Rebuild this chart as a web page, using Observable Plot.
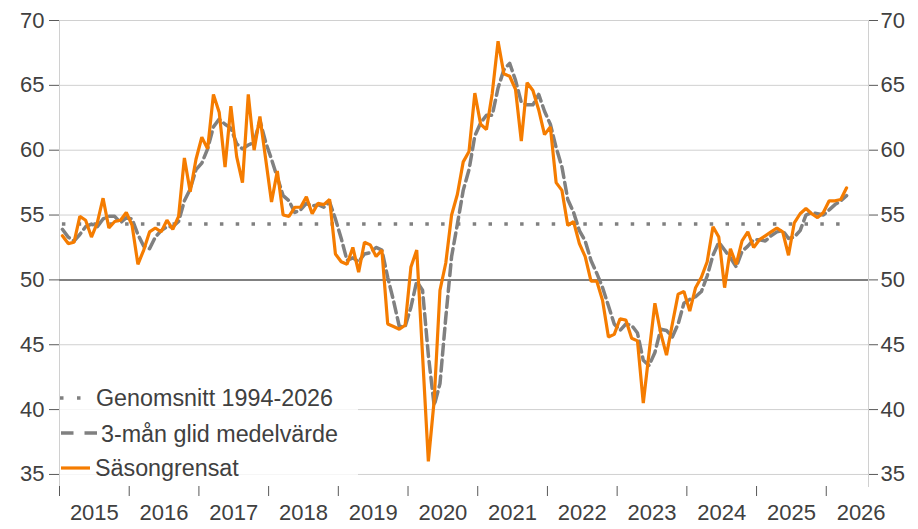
<!DOCTYPE html>
<html>
<head>
<meta charset="utf-8">
<script src="https://cdn.jsdelivr.net/npm/d3@7"></script>
<script src="https://cdn.jsdelivr.net/npm/@observablehq/plot@0.6"></script>
<style>
  html, body { margin: 0; padding: 0; background: #ffffff; }
  #wrap { position: relative; width: 918px; height: 529px; overflow: hidden; }
  #wrap svg { font-family: "Liberation Sans", Arial, sans-serif; }
  #legend { position: absolute; left: 0; top: 0; pointer-events: none; }
</style>
</head>
<body>
<div id="wrap"><div id="chart"></div>
<svg id="legend" width="918" height="529"></svg>
</div>
<script>
// Monthly series, Jan 2015 onward (one value per month)
const startYear = 2015;
const sasongrensat = [
  53.4, 52.8, 52.9, 54.9, 54.6, 53.3, 54.4, 56.3, 54.0, 54.5, 54.6, 55.2,
  54.2, 51.2, 52.3, 53.7, 54.0, 53.7, 54.6, 53.9, 54.9, 59.4, 56.8, 59.3,
  61.0, 60.1, 64.3, 62.9, 58.7, 63.4, 59.5, 57.5, 64.3, 60.0, 62.6, 59.3,
  56.0, 58.4, 55.0, 54.9, 55.6, 55.6, 56.4, 55.1, 55.9, 55.8, 56.2, 52.0,
  51.4, 51.2, 52.5, 50.6, 52.9, 52.7, 51.8, 52.3, 46.6, 46.4, 46.2, 46.5,
  51.0, 52.3, 44.2, 36.0, 40.7, 49.2, 51.3, 55.0, 56.6, 59.1, 59.9, 64.4,
  62.0, 61.6, 64.4, 68.4, 65.9, 65.7, 64.7, 60.7, 65.2, 64.6, 63.1, 61.2,
  61.8, 57.5, 56.9, 54.2, 54.5, 52.8, 51.8, 49.9, 49.9, 48.4, 45.6, 45.8,
  47.0, 46.9, 45.5, 45.3, 40.5, 44.4, 48.2, 45.9, 44.2, 46.6, 48.9, 49.1,
  47.6, 49.4, 50.2, 51.4, 54.1, 53.3, 49.4, 52.4, 51.2, 53.0, 53.7, 52.5,
  53.1, 53.4, 53.7, 54.0, 53.7, 51.9, 54.4, 55.1, 55.5, 55.1, 54.8, 55.2,
  56.1, 56.1, 56.2, 57.1
];
const glidMedel = [
  53.9, 53.3, 53.0, 53.5, 54.1, 54.3, 54.1, 54.7, 54.9, 54.9, 54.4, 54.8,
  54.7, 53.5, 52.6, 52.4, 53.3, 53.8, 54.1, 54.1, 54.5, 56.1, 57.0, 58.5,
  59.0, 60.1, 61.8, 62.4, 62.0, 61.7, 60.5, 60.1, 60.4, 60.6, 62.3, 60.6,
  59.3, 57.9, 56.5, 56.1, 55.2, 55.4, 55.9, 55.7, 55.8, 55.6, 56.0, 54.7,
  53.2, 51.5, 51.7, 51.4, 52.0, 52.1, 52.5, 52.3, 50.2, 48.4, 46.4, 46.4,
  47.9, 49.9, 49.2, 44.2, 40.3, 42.0, 47.1, 51.8, 54.3, 56.9, 58.5, 61.1,
  62.1, 62.7, 62.7, 64.8, 66.2, 66.7, 65.4, 63.7, 63.5, 63.5, 64.3, 63.0,
  62.0, 60.2, 58.7, 56.2, 55.2, 53.8, 53.0, 51.5, 50.5, 49.4, 48.0, 46.6,
  46.1, 46.6, 46.5, 45.9, 43.8, 43.4, 44.4, 46.2, 46.1, 45.6, 46.6, 48.2,
  48.5, 48.7, 49.1, 50.3, 51.9, 52.9, 52.3, 51.7, 51.0, 52.2, 52.6, 53.1,
  53.1, 53.0, 53.4, 53.7, 53.8, 53.2, 53.3, 53.8, 55.0, 55.2, 55.1, 55.0,
  55.4, 55.8, 56.1, 56.5
];
const genomsnitt = 54.3;
const yTicks = [35, 40, 45, 50, 55, 60, 65, 70];
const yearLabels = ["2015","2016","2017","2018","2019","2020","2021","2022","2023","2024","2025","2026"];
const legendLabels = ["Genomsnitt 1994-2026", "3-mån glid medelvärde", "Säsongrensat"];

const rows = sasongrensat.map((v, i) => ({
  t: startYear + (i + 0.5) / 12,
  sa: v,
  ma: glidMedel[i]
}));
const yearStarts = yearLabels.map(y => +y);
const yearMids = yearLabels.map(y => +y + 0.5);

const textColor = "#404040";
const axisFont = 22;

const chart = Plot.plot({
  width: 918,
  height: 529,
  marginLeft: 59,
  marginRight: 50,
  marginTop: 20,
  marginBottom: 43,
  style: {fontFamily: '"Liberation Sans", Arial, sans-serif', color: textColor, background: "#fff"},
  x: {type: "linear", domain: [2015, 2026.606], axis: null, label: null},
  y: {domain: [34.07, 70], axis: null, label: null},
  marks: [
    Plot.ruleY(yTicks.filter(d => d !== 50), {stroke: "#d0d0d0", strokeWidth: 1}),
    Plot.frame({anchor: "left", stroke: "#d0d0d0"}),
    Plot.frame({anchor: "right", stroke: "#d0d0d0"}),
    Plot.ruleY([50], {stroke: "#808080", strokeWidth: 2}),
    Plot.ruleY([genomsnitt], {x1: rows[0].t, x2: rows[rows.length - 1].t, stroke: "#808080", strokeWidth: 3.5, strokeDasharray: "3.5,12.3"}),
    Plot.line(rows, {x: "t", y: "ma", stroke: "#808080", strokeWidth: 3.5, strokeDasharray: "11,5"}),
    Plot.line(rows, {x: "t", y: "sa", stroke: "#f57c00", strokeWidth: 3.2, strokeLinejoin: "miter"}),
    Plot.axisY(yTicks, {anchor: "left", label: null, tickSize: 10, tickPadding: 5, stroke: "#595959", fontSize: axisFont, fill: textColor}),
    Plot.axisY(yTicks, {anchor: "right", label: null, tickSize: 9, tickPadding: 3, stroke: "#595959", fontSize: axisFont, fill: textColor}),
    Plot.axisX(yearStarts, {anchor: "bottom", label: null, tickSize: 10, tickFormat: () => "", stroke: "#595959"}),
    Plot.axisX(yearMids, {anchor: "bottom", label: null, tickSize: 0, tickPadding: 18, tickFormat: (d, i) => yearLabels[i], fontSize: axisFont, fill: textColor})
  ]
});
document.getElementById("chart").appendChild(chart);

// Legend overlay (inside plot area, bottom-left)
const lg = d3.select("#legend");
lg.append("rect").attr("x", 60).attr("y", 376).attr("width", 298).attr("height", 109)
  .attr("fill", "#ffffff").attr("fill-opacity", 0.8);
lg.append("line").attr("x1", 60).attr("x2", 82).attr("y1", 398).attr("y2", 398)
  .attr("stroke", "#808080").attr("stroke-width", 3.5).attr("stroke-dasharray", "3.5,13.5");
lg.append("line").attr("x1", 61).attr("x2", 97).attr("y1", 433).attr("y2", 433)
  .attr("stroke", "#808080").attr("stroke-width", 3.5).attr("stroke-dasharray", "12.5,11");
lg.append("line").attr("x1", 61).attr("x2", 90).attr("y1", 468).attr("y2", 468)
  .attr("stroke", "#f57c00").attr("stroke-width", 3.2);
const lx = [96, 101, 95], ly = [405.5, 441.5, 476];
legendLabels.forEach((t, i) => {
  lg.append("text").attr("x", lx[i]).attr("y", ly[i]).text(t)
    .attr("font-family", '"Liberation Sans", Arial, sans-serif')
    .attr("font-size", 23.3).attr("fill", textColor);
});
</script>
</body>
</html>
